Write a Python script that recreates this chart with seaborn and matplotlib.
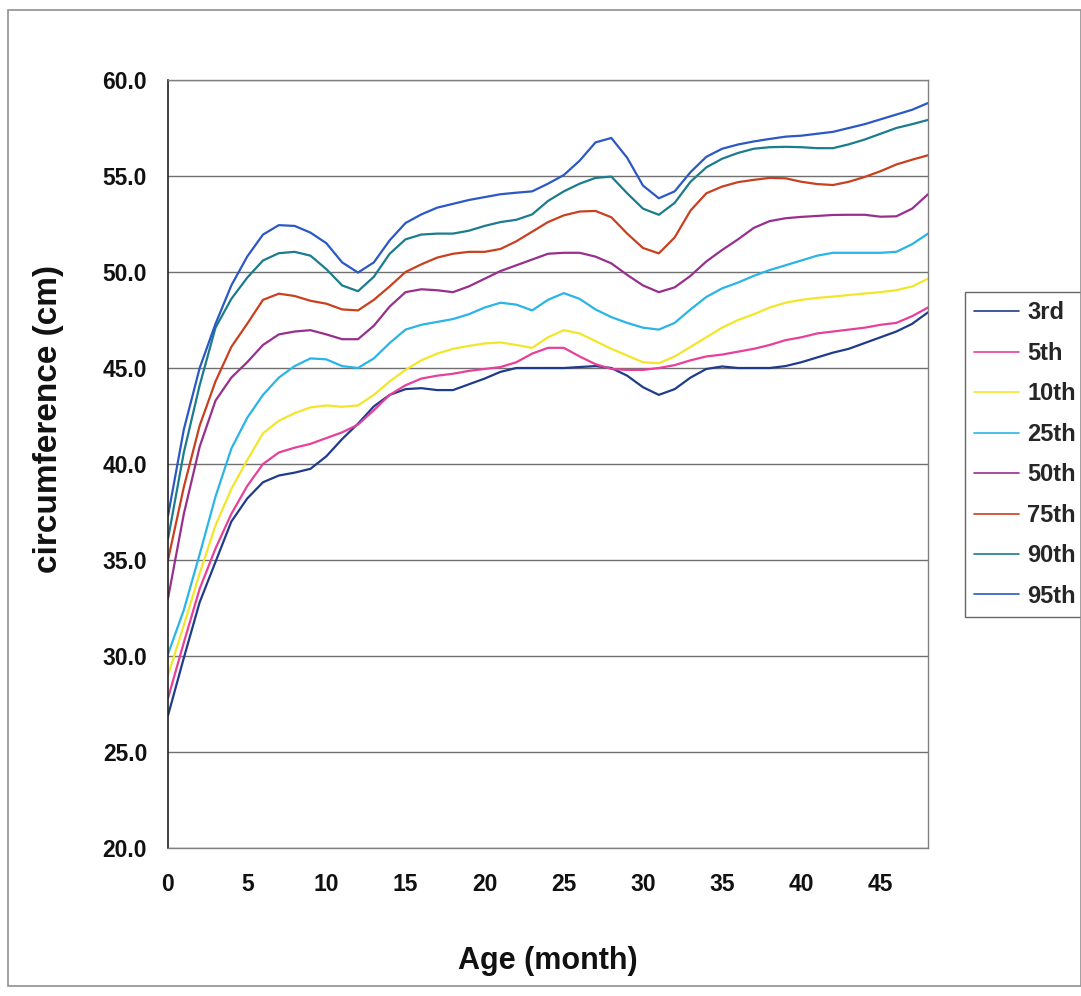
import pandas as pd
import matplotlib.pyplot as plt
import matplotlib.patches as mpatches
import seaborn as sns

# edad en meses (0..48)
months = list(range(49))

p3 = [26.9, 29.9, 32.8, 34.9, 37.0, 38.2, 39.05, 39.4, 39.55, 39.75, 40.4, 41.3, 42.1, 43.0, 43.6, 43.9,
      43.95, 43.85, 43.85, 44.15, 44.45, 44.8, 45.0, 45.0, 45.0, 45.0, 45.05, 45.1, 45.0, 44.6, 44.0, 43.6,
      43.9, 44.5, 44.95, 45.08, 45.0, 45.0, 45.0, 45.1, 45.3, 45.55, 45.8, 46.0, 46.3, 46.6, 46.9, 47.3, 47.9]
p5 = [27.8, 30.7, 33.5, 35.6, 37.4, 38.85, 40.0, 40.6, 40.85, 41.05, 41.35, 41.65, 42.05, 42.8, 43.6, 44.1,
      44.45, 44.6, 44.7, 44.85, 44.95, 45.05, 45.3, 45.75, 46.05, 46.05, 45.6, 45.2, 44.95, 44.9, 44.9, 45.0,
      45.15, 45.4, 45.6, 45.7, 45.85, 46.0, 46.2, 46.45, 46.6, 46.8, 46.9, 47.0, 47.1, 47.25, 47.35, 47.7, 48.15]
p10 = [29.0, 31.6, 34.3, 36.8, 38.7, 40.2, 41.6, 42.25, 42.65, 42.95, 43.05, 42.98, 43.05, 43.6, 44.3, 44.9,
       45.4, 45.75, 46.0, 46.15, 46.28, 46.33, 46.2, 46.05, 46.6, 46.97, 46.8, 46.4, 46.0, 45.65, 45.3, 45.25,
       45.6, 46.1, 46.6, 47.1, 47.5, 47.8, 48.15, 48.4, 48.55, 48.65, 48.72, 48.8, 48.88, 48.95, 49.05, 49.25, 49.65]
p25 = [30.1, 32.4, 35.3, 38.3, 40.8, 42.4, 43.6, 44.5, 45.1, 45.5, 45.45, 45.1, 45.0, 45.5, 46.3, 47.0,
       47.25, 47.4, 47.55, 47.8, 48.15, 48.4, 48.3, 48.0, 48.55, 48.9, 48.6, 48.05, 47.65, 47.35, 47.1, 47.0,
       47.35, 48.05, 48.7, 49.15, 49.45, 49.8, 50.1, 50.35, 50.6, 50.85, 51.0, 51.0, 51.0, 51.0, 51.05, 51.45, 52.0]
p50 = [33.0, 37.4, 40.9, 43.3, 44.5, 45.3, 46.2, 46.75, 46.9, 46.97, 46.75, 46.5, 46.5, 47.2, 48.2, 48.95,
       49.1, 49.05, 48.95, 49.25, 49.65, 50.05, 50.35, 50.65, 50.95, 51.0, 51.0, 50.8, 50.45, 49.85, 49.3, 48.95,
       49.2, 49.8, 50.55, 51.15, 51.7, 52.3, 52.65, 52.8, 52.87, 52.92, 52.97, 52.98, 52.98, 52.88, 52.9, 53.3, 54.05]
p75 = [35.0, 38.8, 42.0, 44.3, 46.1, 47.3, 48.55, 48.87, 48.75, 48.5, 48.35, 48.05, 48.0, 48.55, 49.25, 50.0,
       50.4, 50.75, 50.95, 51.05, 51.05, 51.2, 51.6, 52.1, 52.6, 52.95, 53.15, 53.18, 52.85, 52.0, 51.25, 50.97,
       51.8, 53.2, 54.1, 54.45, 54.68, 54.8, 54.9, 54.88, 54.7, 54.58, 54.53, 54.7, 54.95, 55.25, 55.6, 55.85, 56.08]
p90 = [36.1, 40.6, 44.1, 47.1, 48.6, 49.7, 50.6, 50.98, 51.05, 50.85, 50.15, 49.3, 49.0, 49.75, 50.95, 51.7,
       51.95, 52.0, 52.0, 52.15, 52.4, 52.6, 52.72, 53.0, 53.7, 54.2, 54.6, 54.9, 54.97, 54.1, 53.3, 52.98,
       53.6, 54.7, 55.45, 55.9, 56.2, 56.42, 56.5, 56.52, 56.5, 56.45, 56.45, 56.65, 56.9, 57.2, 57.5, 57.7, 57.92]
p95 = [37.3, 41.8, 45.0, 47.3, 49.3, 50.8, 51.95, 52.44, 52.4, 52.05, 51.5, 50.5, 49.97, 50.5, 51.65, 52.55,
       53.0, 53.35, 53.55, 53.75, 53.9, 54.05, 54.13, 54.2, 54.6, 55.05, 55.8, 56.75, 56.98, 55.95, 54.5, 53.84,
       54.2, 55.2, 56.0, 56.42, 56.64, 56.8, 56.93, 57.05, 57.1, 57.2, 57.3, 57.5, 57.7, 57.95, 58.2, 58.45, 58.8]

labels = ['3rd', '5th', '10th', '25th', '50th', '75th', '90th', '95th']
colors = ['#1f3c8c', '#e8409a', '#f2e62a', '#2ab4e8', '#982f8c', '#c8401e', '#1a7c8c', '#2b58c4']
series = [p3, p5, p10, p25, p50, p75, p90, p95]

df = pd.concat([pd.DataFrame({'Age': months, 'value': s, 'Percentile': lab})
                for s, lab in zip(series, labels)], ignore_index=True)

sns.set_style('white')
plt.rcParams['font.family'] = ['Liberation Sans', 'DejaVu Sans']

fig = plt.figure(figsize=(10.81, 9.96), dpi=100)
ax = fig.add_axes([168 / 1081, 1 - 848 / 996, (928 - 168) / 1081, (848 - 80) / 996])

sns.lineplot(data=df, x='Age', y='value', hue='Percentile', palette=colors,
             linewidth=1.6, ax=ax, legend=True)

ax.set_xlim(0, 48)
ax.set_ylim(20, 60)
ax.set_xticks(range(0, 46, 5))
ax.set_yticks(range(20, 61, 5))
ax.set_yticklabels([f'{v:.1f}' for v in range(20, 61, 5)])
ax.yaxis.grid(True, color='#707070', linewidth=1.0)
ax.xaxis.grid(False)
ax.set_axisbelow(True)
for side in ['top', 'right', 'bottom']:
    ax.spines[side].set_color('#808080')
    ax.spines[side].set_linewidth(1.0)
ax.spines['left'].set_color('#202020')
ax.spines['left'].set_linewidth(1.2)
ax.tick_params(axis='both', which='major', direction='out', length=6, width=1,
               color='#404040', labelsize=16.5, pad=9)
ax.tick_params(axis='x', pad=12)
for t in ax.get_xticklabels() + ax.get_yticklabels():
    t.set_fontweight('bold')
    t.set_color('#111111')

ax.set_xlabel('Age (month)', fontsize=22, fontweight='bold', labelpad=36, color='#111111')
ax.set_ylabel('circumference (cm)', fontsize=24, fontweight='bold', color='#111111')
ax.yaxis.set_label_coords(-0.137, 0.559)

handles, labs = ax.get_legend_handles_labels()
ax.legend(handles, labs, loc='upper left', bbox_to_anchor=(965 / 1081, 1 - 292 / 996),
          bbox_transform=fig.transFigure, frameon=True, fancybox=False, edgecolor='#404040',
          prop={'weight': 'bold', 'size': 17}, handlelength=1.9, handletextpad=0.34,
          labelspacing=0.74, borderpad=0.4, borderaxespad=0)
for line in ax.get_legend().get_lines():
    line.set_linewidth(1.2)

# marco exterior del grafico
fig.patches.append(mpatches.Rectangle((8 / 1081, 10 / 996), 1 - 8 / 1081, 1 - 20 / 996,
                                      transform=fig.transFigure, fill=False,
                                      edgecolor='#909090', linewidth=1.2))

fig.savefig('out.png', dpi=100)
